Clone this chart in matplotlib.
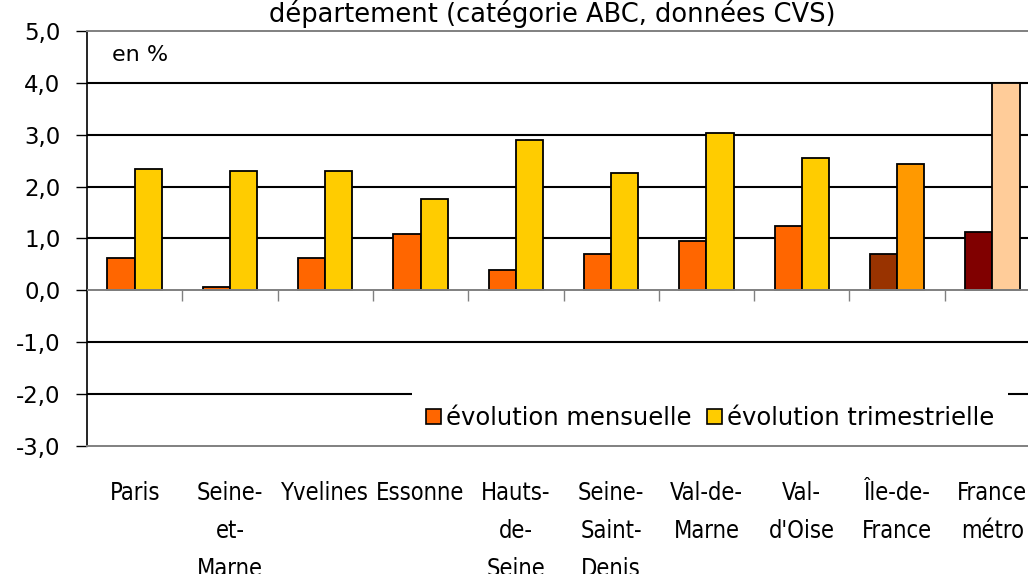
import matplotlib
matplotlib.use("Agg")
import matplotlib.pyplot as plt
from matplotlib.patches import Patch
from matplotlib.ticker import FuncFormatter

# données (en %)
categories = ["Paris", "Seine-\net-\nMarne", "Yvelines", "Essonne", "Hauts-\nde-\nSeine",
              "Seine-\nSaint-\nDenis", "Val-de-\nMarne", "Val-\nd'Oise", "Île-de-\nFrance",
              "France\nmétro"]
evol_mensuelle = [0.62, 0.06, 0.62, 1.08, 0.40, 0.71, 0.95, 1.25, 0.71, 1.12]
evol_trimestrielle = [2.34, 2.31, 2.31, 1.76, 2.89, 2.26, 3.03, 2.56, 2.43, 4.0]
y_ticks = [-3, -2, -1, 0, 1, 2, 3, 4, 5]

# couleurs : départements, Île-de-France, France métro
col_mens = ["#FF6600"] * 8 + ["#993300", "#800000"]
col_trim = ["#FFCC00"] * 8 + ["#FF9900", "#FFCC99"]

plt.rcParams['font.family'] = ['DejaVu Sans']

W, H = 1028, 574
fig = plt.figure(figsize=(W / 100, H / 100), dpi=100)
ax = fig.add_axes([87 / W, 1 - 446 / H, 953 / W, 415 / H])

x = list(range(len(categories)))
bw = 0.285
ax.bar([i - bw / 2 for i in x], evol_mensuelle, bw, color=col_mens,
       edgecolor="black", linewidth=1.3, zorder=3)
ax.bar([i + bw / 2 for i in x], evol_trimestrielle, bw, color=col_trim,
       edgecolor="black", linewidth=1.3, zorder=3)

ax.set_xlim(-0.5, len(categories) - 0.5)
ax.set_ylim(-3, 5)
ax.set_yticks(y_ticks)
ax.yaxis.set_major_formatter(FuncFormatter(lambda v, p: f"{v:.1f}".replace(".", ",")))
ax.tick_params(axis="y", direction="out", length=8, width=1, labelsize=16.5, pad=11)

# grille horizontale noire
for v in y_ticks[1:-1]:
    if v != 0:
        ax.axhline(v, color="black", lw=1.5, zorder=1)
ax.axhline(0, color="#808080", lw=1.4, zorder=4)

ax.spines["right"].set_visible(False)
ax.spines["top"].set_color("#808080")
ax.spines["top"].set_linewidth(1.4)
ax.spines["bottom"].set_color("#808080")
ax.spines["bottom"].set_linewidth(1.4)
ax.spines["left"].set_linewidth(1.2)

# libellés des catégories
ax.set_xticks(x)
ax.set_xticklabels(categories, fontsize=17, fontstretch="condensed", linespacing=1.75)
ax.tick_params(axis="x", length=0, pad=25)

# graduations sur l'axe à 0
sec = ax.secondary_xaxis(3 / 8)
sec.set_xticks([i + 0.5 for i in x[:-1]])
sec.set_xticklabels([])
sec.tick_params(axis="x", direction="out", length=8, width=1, color="#808080")
sec.spines["bottom"].set_visible(False)

ax.text(112, H - 55, "en %", transform=None, fontsize=16, va="center")
fig.text(552 / W, 1 - 14 / H, "département (catégorie ABC, données CVS)",
         ha="center", va="center", fontsize=18.5)

handles = [Patch(facecolor="#FF6600", edgecolor="black", lw=1.2),
           Patch(facecolor="#FFCC00", edgecolor="black", lw=1.2)]
leg = ax.legend(handles, ["évolution mensuelle", "évolution trimestrielle"], ncol=2,
                loc="center", bbox_to_anchor=(710 / W, 1 - 418 / H),
                bbox_transform=fig.transFigure, fontsize=17.5, frameon=True,
                fancybox=False, handlelength=0.62, handleheight=0.62,
                handletextpad=0.2, columnspacing=0.62, borderpad=0.6)
leg.get_frame().set_edgecolor("none")
leg.get_frame().set_facecolor("white")
leg.get_frame().set_alpha(1)
leg.set_zorder(5)

fig.savefig("out.png", dpi=100)
